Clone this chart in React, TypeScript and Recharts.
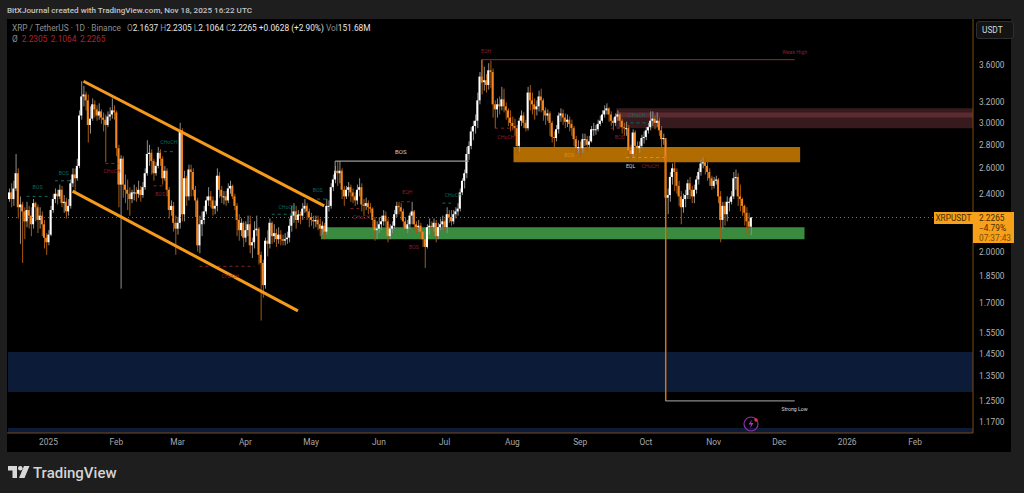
import { ComposedChart, Bar, XAxis, YAxis, ReferenceArea, ReferenceLine, ReferenceDot } from "recharts";

// daily XRP/USDT, starts Dec 14 2024, last candle Nov 18 2025
const closes = [
  2.41, 2.36, 2.44, 2.56, 2.30, 2.32, 2.27, 2.20, 2.28, 2.24,
  2.18, 2.33, 2.30, 2.21, 2.24, 2.18, 2.09, 2.06, 2.11, 2.28,
  2.36, 2.40, 2.38, 2.43, 2.33, 2.34, 2.27, 2.31, 2.48, 2.55,
  2.52, 2.62, 3.07, 3.26, 3.28, 3.22, 2.98, 3.04, 3.18, 3.13,
  3.07, 3.11, 3.05, 3.03, 2.98, 3.06, 3.08, 3.12, 3.10, 2.77,
  2.47, 2.68, 2.47, 2.43, 2.40, 2.36, 2.41, 2.41, 2.40, 2.43,
  2.39, 2.45, 2.56, 2.72, 2.73, 2.66, 2.56, 2.62, 2.73, 2.68,
  2.52, 2.58, 2.43, 2.28, 2.31, 2.19, 2.15, 2.19, 2.93, 2.25,
  2.52, 2.38, 2.59, 2.57, 2.43, 2.35, 2.04, 2.18, 2.21, 2.27,
  2.35, 2.38, 2.35, 2.29, 2.31, 2.54, 2.43, 2.38, 2.38, 2.35,
  2.44, 2.46, 2.38, 2.31, 2.21, 2.14, 2.19, 2.09, 2.14, 2.18,
  2.04, 2.06, 2.14, 2.15, 1.98, 1.93, 1.80, 2.07, 2.05, 2.19,
  2.10, 2.12, 2.08, 2.11, 2.08, 2.07, 2.08, 2.09, 2.17, 2.24,
  2.27, 2.21, 2.25, 2.24, 2.29, 2.31, 2.27, 2.23, 2.21, 2.20,
  2.21, 2.18, 2.15, 2.17, 2.13, 2.31, 2.31, 2.45, 2.51, 2.58,
  2.56, 2.58, 2.43, 2.38, 2.43, 2.45, 2.41, 2.38, 2.35, 2.43,
  2.45, 2.32, 2.31, 2.33, 2.30, 2.29, 2.21, 2.14, 2.15, 2.18,
  2.20, 2.24, 2.20, 2.10, 2.15, 2.17, 2.25, 2.31, 2.30, 2.27,
  2.20, 2.15, 2.18, 2.24, 2.27, 2.18, 2.16, 2.17, 2.13, 2.08,
  2.03, 2.16, 2.17, 2.16, 2.19, 2.10, 2.16, 2.18, 2.20, 2.16,
  2.25, 2.23, 2.20, 2.25, 2.27, 2.29, 2.41, 2.50, 2.56, 2.72,
  2.79, 2.92, 2.97, 3.02, 3.22, 3.47, 3.41, 3.43, 3.38, 3.54,
  3.52, 3.18, 3.13, 3.18, 3.16, 3.23, 3.16, 3.12, 3.05, 3.00, 2.97,
  2.95, 2.79, 3.02, 3.07, 3.00, 2.95, 3.30, 3.22, 3.18, 3.13,
  3.16, 3.26, 3.22, 3.12, 3.07, 3.09, 3.00, 2.87, 2.86, 2.94,
  3.07, 3.09, 3.05, 3.01, 3.03, 2.99, 2.95, 2.85, 2.77, 2.78,
  2.77, 2.85, 2.85, 2.80, 2.83, 2.94, 2.94, 2.94, 2.99, 3.02,
  3.08, 3.12, 3.14, 3.08, 3.02, 3.00, 3.06, 3.08, 3.02, 2.96,
  2.95, 2.95, 2.75, 2.72, 2.91, 2.79, 2.77, 2.79, 2.86, 2.87,
  2.93, 2.96, 3.02, 3.04, 3.00, 3.02, 2.93, 2.85, 2.86, 2.37,
  2.39, 2.53, 2.60, 2.57, 2.46, 2.38, 2.30, 2.36, 2.39, 2.48,
  2.43, 2.38, 2.43, 2.51, 2.57, 2.64, 2.65, 2.62, 2.57, 2.52,
  2.46, 2.50, 2.51, 2.38, 2.21, 2.31, 2.25, 2.34, 2.34, 2.38,
  2.52, 2.53, 2.38, 2.36, 2.31, 2.26, 2.20, 2.1637, 2.2265,
];

const highs = [
  2.44, 2.48, 2.50, 2.72, 2.60, 2.38, 2.34, 2.30, 2.34, 2.31,
  2.30, 2.36, 2.34, 2.32, 2.30, 2.27, 2.21, 2.12, 2.14, 2.31,
  2.40, 2.44, 2.43, 2.47, 2.46, 2.39, 2.37, 2.36, 2.51, 2.60,
  2.60, 2.68, 3.12, 3.42, 3.37, 3.31, 3.28, 3.16, 3.24, 3.22,
  3.17, 3.19, 3.13, 3.10, 3.08, 3.11, 3.15, 3.24, 3.17, 3.12,
  2.80, 2.71, 2.70, 2.55, 2.51, 2.45, 2.43, 2.47, 2.45, 2.50,
  2.46, 2.49, 2.60, 2.84, 2.80, 2.76, 2.68, 2.65, 2.78, 2.76,
  2.70, 2.62, 2.60, 2.45, 2.35, 2.34, 2.24, 2.23, 3.00, 2.95,
  2.58, 2.54, 2.63, 2.63, 2.60, 2.46, 2.37, 2.24, 2.27, 2.31,
  2.38, 2.45, 2.42, 2.38, 2.35, 2.60, 2.57, 2.46, 2.42, 2.42,
  2.48, 2.50, 2.47, 2.40, 2.33, 2.25, 2.22, 2.20, 2.20, 2.24,
  2.24, 2.09, 2.20, 2.24, 2.16, 2.00, 1.95, 2.09, 2.14, 2.22,
  2.20, 2.18, 2.15, 2.16, 2.14, 2.11, 2.12, 2.13, 2.22, 2.31,
  2.33, 2.31, 2.28, 2.27, 2.33, 2.36, 2.33, 2.29, 2.26, 2.24,
  2.24, 2.24, 2.22, 2.20, 2.19, 2.36, 2.35, 2.48, 2.55, 2.62,
  2.66, 2.66, 2.60, 2.46, 2.46, 2.49, 2.47, 2.44, 2.41, 2.47,
  2.52, 2.48, 2.36, 2.37, 2.35, 2.33, 2.30, 2.23, 2.20, 2.23,
  2.24, 2.28, 2.27, 2.22, 2.18, 2.20, 2.28, 2.34, 2.34, 2.33,
  2.29, 2.23, 2.21, 2.26, 2.34, 2.28, 2.20, 2.21, 2.19, 2.14,
  2.10, 2.18, 2.22, 2.20, 2.22, 2.21, 2.19, 2.22, 2.24, 2.22,
  2.30, 2.28, 2.28, 2.28, 2.30, 2.33, 2.44, 2.52, 2.59, 2.78,
  2.83, 2.96, 3.02, 3.08, 3.30, 3.52, 3.66, 3.58, 3.50, 3.62,
  3.65, 3.56, 3.22, 3.24, 3.26, 3.36, 3.34, 3.20, 3.14, 3.12, 3.06,
  3.04, 2.98, 3.05, 3.12, 3.10, 3.03, 3.36, 3.38, 3.30, 3.24,
  3.22, 3.32, 3.34, 3.24, 3.15, 3.13, 3.11, 3.02, 2.92, 2.98,
  3.10, 3.14, 3.13, 3.09, 3.08, 3.06, 3.03, 2.97, 2.88, 2.84,
  2.83, 2.90, 2.90, 2.88, 2.88, 2.97, 3.00, 2.98, 3.03, 3.07,
  3.12, 3.17, 3.19, 3.15, 3.11, 3.05, 3.09, 3.12, 3.10, 3.04,
  3.00, 3.01, 2.98, 2.80, 2.94, 2.93, 2.83, 2.83, 2.89, 2.92,
  2.96, 3.00, 3.11, 3.11, 3.07, 3.10, 3.05, 2.97, 2.90, 2.84,
  2.44, 2.57, 2.64, 2.66, 2.60, 2.50, 2.42, 2.40, 2.43, 2.51,
  2.53, 2.46, 2.47, 2.54, 2.60, 2.67, 2.69, 2.69, 2.66, 2.60,
  2.54, 2.53, 2.54, 2.52, 2.42, 2.34, 2.34, 2.38, 2.37, 2.42,
  2.57, 2.59, 2.56, 2.47, 2.37, 2.32, 2.30, 2.26, 2.2305,
];

const lows = [
  2.34, 2.30, 2.31, 2.42, 2.22, 2.05, 1.93, 2.08, 2.16, 2.15,
  2.10, 2.15, 2.20, 2.12, 2.15, 2.10, 2.02, 1.98, 2.04, 2.10,
  2.26, 2.33, 2.32, 2.36, 2.30, 2.26, 2.22, 2.24, 2.29, 2.45,
  2.42, 2.50, 2.60, 3.03, 3.16, 3.12, 2.82, 2.90, 3.02, 3.05,
  3.02, 3.03, 2.99, 2.92, 2.65, 2.96, 3.02, 3.04, 3.03, 2.70,
  2.30, 1.78, 2.37, 2.33, 2.28, 2.24, 2.33, 2.35, 2.34, 2.37,
  2.34, 2.37, 2.43, 2.54, 2.62, 2.55, 2.50, 2.54, 2.60, 2.62,
  2.47, 2.50, 2.38, 2.22, 2.24, 2.13, 1.98, 2.11, 2.15, 2.20,
  2.20, 2.31, 2.35, 2.38, 2.38, 2.23, 2.00, 1.99, 2.10, 2.18,
  2.25, 2.31, 2.30, 2.24, 2.25, 2.27, 2.37, 2.33, 2.32, 2.31,
  2.33, 2.40, 2.36, 2.28, 2.10, 2.07, 2.10, 2.03, 2.06, 2.10,
  1.99, 1.96, 2.02, 2.10, 1.92, 1.61, 1.73, 1.78, 1.97, 2.02,
  2.05, 2.06, 2.03, 2.05, 2.04, 2.04, 2.04, 2.05, 2.06, 2.13,
  2.19, 2.15, 2.19, 2.18, 2.21, 2.26, 2.21, 2.16, 2.17, 2.15,
  2.16, 2.14, 2.10, 2.11, 2.08, 2.11, 2.27, 2.29, 2.42, 2.48,
  2.46, 2.48, 2.36, 2.31, 2.36, 2.38, 2.34, 2.33, 2.31, 2.32,
  2.38, 2.27, 2.24, 2.28, 2.25, 2.26, 2.16, 2.07, 2.08, 2.12,
  2.14, 2.17, 2.16, 2.06, 2.08, 2.12, 2.15, 2.23, 2.25, 2.21,
  2.16, 2.10, 2.12, 2.15, 2.18, 2.14, 2.12, 2.13, 2.08, 2.03,
  1.90, 2.02, 2.11, 2.10, 2.13, 2.06, 2.08, 2.14, 2.15, 2.13,
  2.12, 2.19, 2.17, 2.18, 2.22, 2.24, 2.27, 2.39, 2.44, 2.52,
  2.67, 2.76, 2.84, 2.90, 2.95, 3.18, 3.28, 3.32, 3.30, 3.33,
  3.35, 3.05, 2.95, 3.05, 3.08, 3.12, 3.10, 3.03, 2.97, 2.92, 2.93,
  2.88, 2.72, 2.74, 2.97, 2.95, 2.92, 2.93, 3.12, 3.08, 3.03,
  3.07, 3.11, 3.10, 3.02, 2.98, 3.02, 2.88, 2.82, 2.78, 2.83,
  2.90, 3.01, 2.98, 2.95, 2.96, 2.92, 2.88, 2.79, 2.72, 2.73,
  2.70, 2.73, 2.79, 2.74, 2.77, 2.82, 2.88, 2.89, 2.92, 2.97,
  3.00, 3.05, 3.08, 3.01, 2.97, 2.93, 2.97, 3.02, 2.96, 2.90,
  2.88, 2.88, 2.70, 2.68, 2.69, 2.72, 2.68, 2.73, 2.77, 2.81,
  2.84, 2.90, 2.93, 2.97, 2.94, 2.96, 2.88, 2.78, 2.80, 1.25,
  2.25, 2.34, 2.47, 2.42, 2.40, 2.31, 2.18, 2.26, 2.30, 2.36,
  2.36, 2.33, 2.33, 2.40, 2.47, 2.54, 2.60, 2.55, 2.50, 2.46,
  2.43, 2.44, 2.47, 2.33, 2.06, 2.15, 2.17, 2.20, 2.27, 2.32,
  2.36, 2.43, 2.31, 2.27, 2.24, 2.17, 2.12, 2.10, 2.1064,
];

const firstOpen = 2.36;
const lastPrice = 2.2265;
const slotCount = 441; // axis runs on past the last candle to end of Feb 2026

const priceTicks = [3.6, 3.2, 3.0, 2.8, 2.6, 2.4, 2.0, 1.85, 1.7, 1.55, 1.45, 1.35, 1.25, 1.17];
const timeTicks = [18, 49, 77, 108, 138, 169, 199, 230, 261, 291, 322, 352, 383, 414];
const timeLabels = ["2025", "Feb", "Mar", "Apr", "May", "Jun", "Jul", "Aug", "Sep", "Oct", "Nov", "Dec", "2026", "Feb"];

const rows = Array.from({ length: slotCount }, (_, i) => {
  if (i >= closes.length) return { i };
  const open = i === 0 ? firstOpen : closes[i - 1];
  const close = closes[i];
  return {
    i,
    open,
    close,
    wick: [lows[i], highs[i]],
    body: [Math.min(open, close), Math.max(open, close)],
  };
});

// bands without x1/x2 span the whole plot
const fullBands = [
  { y1: 1.286, y2: 1.458, fill: "#0c1b38" },
  { y1: 1.13, y2: 1.148, fill: "#0c1b38" },
];

const zones = [
  { x1: 278, y1: 2.95, y2: 3.14, fill: "#371a1e" },
  { x1: 278, y1: 3.05, y2: 3.1, fill: "#5a2b31" },
  { x1: 231, x2: 361, y1: 2.65, y2: 2.78, fill: "#b06c00" },
  { x1: 143, x2: 363, y1: 2.08, y2: 2.16, fill: "#3a8a3f" },
];

const channelLines = [
  { from: [34, 3.42], to: [144, 2.31] },
  { from: [29, 2.42], to: [132, 1.66] },
];

const structureLines = [
  { from: [149, 2.66], to: [210, 2.66], stroke: "#9a9a9a", width: 1.2 },
  { from: [149, 2.66], to: [149, 2.56], stroke: "#9a9a9a", width: 1 },
  { from: [216, 3.66], to: [359, 3.66], stroke: "#8a2b35", width: 1 },
  { from: [216, 3.66], to: [216, 3.4], stroke: "#c47412", width: 1 },
  { from: [300, 2.7], to: [300, 1.25], stroke: "#c9781a", width: 1.2 },
  { from: [300, 1.25], to: [359, 1.25], stroke: "#8a8a8a", width: 1.2 },
];

const TEAL = "#0d6a5a";
const RED = "#8c1f2b";

const dashLines = [
  { x1: 8, x2: 18, y: 2.38, stroke: TEAL },
  { x1: 21, x2: 28, y: 2.5, stroke: TEAL },
  { x1: 44, x2: 50, y: 2.64, stroke: RED },
  { x1: 68, x2: 76, y: 2.74, stroke: TEAL },
  { x1: 66, x2: 71, y: 2.46, stroke: RED },
  { x1: 87, x2: 112, y: 1.91, stroke: RED },
  { x1: 120, x2: 132, y: 2.25, stroke: TEAL },
  { x1: 138, x2: 145, y: 2.36, stroke: TEAL },
  { x1: 179, x2: 184, y: 2.34, stroke: RED },
  { x1: 156, x2: 160, y: 2.29, stroke: RED },
  { x1: 198, x2: 202, y: 2.33, stroke: TEAL },
  { x1: 222, x2: 231, y: 2.95, stroke: RED },
  { x1: 275, x2: 281, y: 2.95, stroke: RED },
  { x1: 284, x2: 291, y: 3.0, stroke: TEAL },
  { x1: 282, x2: 300, y: 2.69, stroke: "#e8891a" },
];

const marks = [
  { x: 13, y: 2.45, text: "BOS", fill: TEAL },
  { x: 25, y: 2.56, text: "BOS", fill: TEAL },
  { x: 47, y: 2.58, text: "CHoCH", fill: RED },
  { x: 73, y: 2.82, text: "CHoCH", fill: TEAL },
  { x: 69, y: 2.4, text: "BOS", fill: RED },
  { x: 101, y: 1.85, text: "CHoCH", fill: RED },
  { x: 127, y: 2.3, text: "CHoCH", fill: TEAL },
  { x: 141, y: 2.43, text: "BOS", fill: TEAL },
  { x: 179, y: 2.74, text: "BOS", fill: "#d0d0d0", size: 6 },
  { x: 182, y: 2.41, text: "EQH", fill: RED },
  { x: 161, y: 2.23, text: "CHoCH", fill: RED },
  { x: 185, y: 2.03, text: "BOS", fill: RED },
  { x: 203, y: 2.39, text: "CHoCH", fill: TEAL },
  { x: 218, y: 3.76, text: "EQH", fill: RED },
  { x: 227, y: 2.87, text: "CHoCH", fill: RED },
  { x: 256, y: 2.71, text: "BOS", fill: "#dd8a20" },
  { x: 279, y: 2.87, text: "BOS", fill: RED },
  { x: 287, y: 3.07, text: "CHoCH", fill: TEAL },
  { x: 284, y: 2.62, text: "EQL", fill: "#d8d8d8" },
  { x: 293, y: 2.62, text: "CHoCH", fill: RED },
  { x: 359, y: 3.75, text: "Weak High", fill: RED },
  { x: 359, y: 1.22, text: "Strong Low", fill: "#d8d8d8" },
];

const UI_FONT = "Roboto, 'Liberation Sans', sans-serif";

const WickShape = ({ x, y, width, height, payload }: any) => {
  if (payload.close == null) return null;
  const up = payload.close >= payload.open;
  const top = Math.min(y, y + height);
  return <rect x={x + width / 2 - 0.5} y={top} width={1} height={Math.abs(height)} fill={up ? "#8f8f8f" : "#a85a10"} />;
};

const BodyShape = ({ x, y, width, height, payload }: any) => {
  if (payload.close == null) return null;
  const up = payload.close >= payload.open;
  const top = Math.min(y, y + height);
  return <rect x={x} y={top} width={width} height={Math.max(Math.abs(height), 1)} fill={up ? "#ffffff" : "#f5861f"} />;
};

const formatTime = (v: number) => timeLabels[timeTicks.indexOf(v)] ?? "";
const formatPrice = (v: number) => v.toFixed(4);

export default function App() {
  return (
    <div style={{ position: "absolute", left: 0, top: 0, width: 1024, height: 493, background: "#1e1e1e", overflow: "hidden", fontFamily: UI_FONT }}>
      <div style={{ position: "absolute", left: 7, top: 5, fontSize: 8.1, color: "#c4c4c4", whiteSpace: "nowrap", fontWeight: 500 }}>
        BitXJournal created with TradingView.com, Nov 18, 2025 16:22 UTC
      </div>
      <div style={{ position: "absolute", left: 7, top: 19, width: 1004, height: 433, background: "#000" }} />

      <div style={{ position: "absolute", left: 0, top: 0 }}>
        <ComposedChart
          width={1024}
          height={493}
          data={rows}
          margin={{ top: 19, right: 13, bottom: 41, left: 7 }}
          barCategoryGap={0}
        >
          <XAxis
            dataKey="i"
            type="category"
            ticks={timeTicks}
            interval={0}
            tickFormatter={formatTime}
            height={19}
            padding={{ left: 1 }}
            tickLine={false}
            tickSize={0}
            tickMargin={6}
            axisLine={{ stroke: "#7a4a12" }}
            tick={{ fill: "#a8a8a8", fontSize: 8.4 }}
          />
          <XAxis dataKey="i" type="category" xAxisId="wicks" padding={{ left: 1 }} hide />
          <YAxis
            orientation="right"
            scale="log"
            type="number"
            domain={[1.13, 4.16]}
            allowDataOverflow
            ticks={priceTicks}
            interval={0}
            tickFormatter={formatPrice}
            width={38}
            tickLine={false}
            tickSize={0}
            tickMargin={6}
            axisLine={{ stroke: "#7a4a12" }}
            tick={{ fill: "#b4b4b4", fontSize: 8.3 }}
          />

          {fullBands.map((b, idx) => (
            <ReferenceArea key={idx} y1={b.y1} y2={b.y2} fill={b.fill} fillOpacity={1} stroke="none" />
          ))}

          {zones.map((z, idx) => (
            <ReferenceArea key={idx} x1={z.x1} x2={z.x2} y1={z.y1} y2={z.y2} fill={z.fill} fillOpacity={1} stroke="none" />
          ))}

          <ReferenceLine y={lastPrice} stroke="#b56c14" strokeDasharray="1 3" />

          {dashLines.map((d, idx) => (
            <ReferenceLine
              key={idx}
              segment={[{ x: d.x1, y: d.y }, { x: d.x2, y: d.y }]}
              stroke={d.stroke}
              strokeDasharray="3 3"
            />
          ))}

          {structureLines.map((s, idx) => (
            <ReferenceLine
              key={idx}
              segment={[{ x: s.from[0], y: s.from[1] }, { x: s.to[0], y: s.to[1] }]}
              stroke={s.stroke}
              strokeWidth={s.width}
            />
          ))}

          <Bar dataKey="wick" xAxisId="wicks" barSize={1} shape={WickShape} isAnimationActive={false} />
          <Bar dataKey="body" barSize={2} shape={BodyShape} isAnimationActive={false} />

          {channelLines.map((c, idx) => (
            <ReferenceLine
              key={idx}
              segment={[{ x: c.from[0], y: c.from[1] }, { x: c.to[0], y: c.to[1] }]}
              stroke="#f59a1b"
              strokeWidth={3}
            />
          ))}

          {marks.map((m, idx) => (
            <ReferenceDot
              key={idx}
              x={m.x}
              y={m.y}
              r={0}
              stroke="none"
              label={{ value: m.text, fill: m.fill, fontSize: m.size ?? 5.2, position: "center" }}
            />
          ))}
        </ComposedChart>
      </div>

      <div style={{ position: "absolute", left: 12, top: 23, fontSize: 8.3, color: "#8f8f8f", whiteSpace: "nowrap" }}>
        XRP / TetherUS · 1D · Binance{"  "}
        <span style={{ marginLeft: 4 }}>O</span><span style={{ color: "#e8e8e8" }}>2.1637</span>{" "}
        H<span style={{ color: "#e8e8e8" }}>2.2305</span>{" "}
        L<span style={{ color: "#e8e8e8" }}>2.1064</span>{" "}
        C<span style={{ color: "#e8e8e8" }}>2.2265</span>{" "}
        <span style={{ color: "#e8e8e8" }}>+0.0628 (+2.90%)</span>{" "}
        Vol<span style={{ color: "#e8e8e8" }}>151.68M</span>
      </div>
      <div style={{ position: "absolute", left: 12, top: 34, fontSize: 8.3, color: "#8f8f8f", whiteSpace: "nowrap" }}>
        Ø <span style={{ color: "#b3202e", marginLeft: 2, wordSpacing: 1.5 }}>2.2305 2.1064 2.2265</span>
      </div>

      <div style={{ position: "absolute", left: 976, top: 21, width: 38, height: 18, boxSizing: "border-box", border: "1px solid #2e2e2e", borderRadius: 3, background: "#141414", color: "#d8d8d8", fontSize: 8.3, lineHeight: "16px", paddingLeft: 5 }}>
        USDT
      </div>

      <div style={{ position: "absolute", left: 934, top: 212, width: 39, height: 12, background: "#f7a01a", color: "#4a2c00", fontSize: 8.3, lineHeight: "12px", textAlign: "center" }}>
        XRPUSDT
      </div>
      <div style={{ position: "absolute", left: 973, top: 212, width: 41, height: 31, background: "#f7a01a", color: "#4a2c00", fontSize: 8.3, lineHeight: "10px", paddingLeft: 6, boxSizing: "border-box", paddingTop: 1 }}>
        2.2265<br />−4.79%<br /><span style={{ color: "#7a4c08" }}>07:37:43</span>
      </div>

      <svg style={{ position: "absolute", left: 742, top: 415 }} width={20} height={20}>
        <circle cx={9} cy={9} r={7} fill="none" stroke="#8e2fa8" strokeWidth={1.2} />
        <path d="M10 4.5 L6.5 9.5 L9 9.5 L8 13.5 L11.5 8 L9 8 Z" fill="#a33cc0" />
        <circle cx={14} cy={5} r={1.7} fill="#f0323c" />
      </svg>

      <svg style={{ position: "absolute", left: 8, top: 466 }} width={22} height={13}>
        <path d="M0 0 H9 V12 H4.5 V4.5 H0 Z" fill="#d8d8d8" />
        <circle cx={12.3} cy={2.3} r={2.3} fill="#d8d8d8" />
        <path d="M16 0 H21.5 L16.5 12 H11 Z" fill="#d8d8d8" />
      </svg>
      <div style={{ position: "absolute", left: 33, top: 464, fontSize: 15, fontWeight: 500, color: "#d4d4d4", whiteSpace: "nowrap" }}>
        TradingView
      </div>
    </div>
  );
}
